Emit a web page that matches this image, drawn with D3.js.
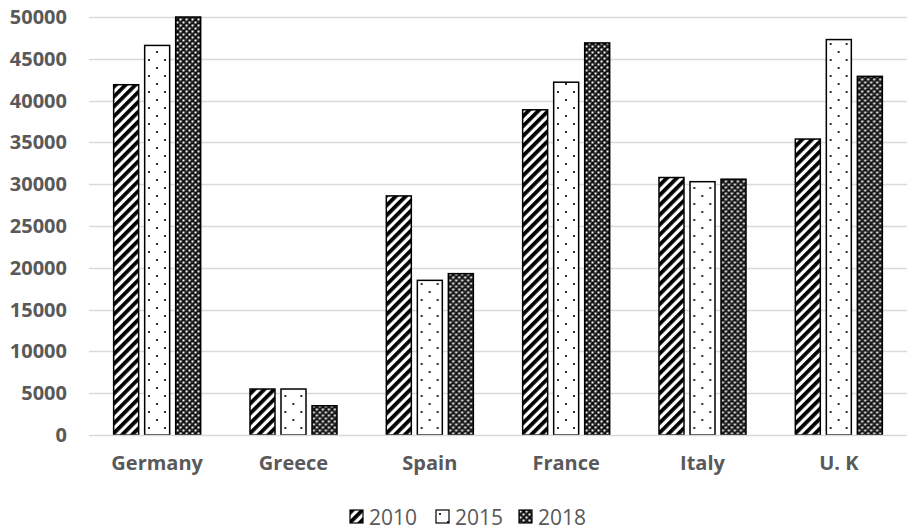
<!DOCTYPE html>
<html>
<head>
<meta charset="utf-8">
<script src="https://cdn.jsdelivr.net/npm/d3@7"></script>
<style>
  html, body { margin: 0; padding: 0; background: #fff; }
  svg { display: block; }
</style>
</head>
<body>
<svg id="chart" width="907" height="532"></svg>
<script>
const categories = ["Germany", "Greece", "Spain", "France", "Italy", "U. K"];
const seriesNames = ["2010", "2015", "2018"];
const values2010 = [41900, 5500, 28600, 38900, 30800, 35400];
const values2015 = [46600, 5500, 18500, 42200, 30300, 47300];
const values2018 = [50000, 3500, 19300, 46900, 30600, 42900];
const yTicks = [0, 5000, 10000, 15000, 20000, 25000, 30000, 35000, 40000, 45000, 50000];

const seriesValues = [values2010, values2015, values2018];
const rows = categories.map((c, i) => ({
  category: c,
  items: seriesNames.map((s, j) => ({ series: s, value: seriesValues[j][i] }))
}));

const svg = d3.select("#chart");
const textColor = "#595959";
const font = "'Open Sans', 'DejaVu Sans', sans-serif";

// fill patterns for the three series
const defs = svg.append("defs");
const stripes = defs.append("pattern")
  .attr("id", "pat-2010").attr("patternUnits", "userSpaceOnUse")
  .attr("width", 7).attr("height", 7)
  .attr("patternTransform", "rotate(45)");
stripes.append("rect").attr("width", 7).attr("height", 7).attr("fill", "#fff");
stripes.append("rect").attr("width", 3.8).attr("height", 7).attr("fill", "#000");

const dots = defs.append("pattern")
  .attr("id", "pat-2015").attr("patternUnits", "userSpaceOnUse")
  .attr("width", 16).attr("height", 16);
dots.append("rect").attr("width", 16).attr("height", 16).attr("fill", "#fff");
dots.append("circle").attr("cx", 4).attr("cy", 4).attr("r", 1.1).attr("fill", "#000");
dots.append("circle").attr("cx", 12).attr("cy", 12).attr("r", 1.1).attr("fill", "#000");

const checks = defs.append("pattern")
  .attr("id", "pat-2018").attr("patternUnits", "userSpaceOnUse")
  .attr("width", 6).attr("height", 6);
checks.append("rect").attr("width", 6).attr("height", 6).attr("fill", "#111");
checks.append("rect").attr("x", 0.5).attr("y", 0.5).attr("width", 2).attr("height", 2).attr("fill", "#fff");
checks.append("rect").attr("x", 3.5).attr("y", 3.5).attr("width", 2).attr("height", 2).attr("fill", "#fff");
checks.append("rect").attr("x", 2.6).attr("y", 0.6).attr("width", 0.8).attr("height", 0.8).attr("fill", "#bbb");
checks.append("rect").attr("x", 0.6).attr("y", 3.6).attr("width", 0.8).attr("height", 0.8).attr("fill", "#bbb");

const fills = d3.scaleOrdinal().domain(seriesNames)
  .range(["url(#pat-2010)", "url(#pat-2015)", "url(#pat-2018)"]);

// scales
const x0 = d3.scaleBand().domain(categories).range([89, 907]).padding(0);
const x1 = d3.scaleBand().domain(seriesNames).range([0, x0.bandwidth()])
  .paddingInner(0.194).paddingOuter(0.795);
const y = d3.scaleLinear().domain([0, 50000]).range([435, 17]);

// gridlines
svg.append("g").selectAll("line").data(yTicks.filter(t => t > 0)).join("line")
  .attr("x1", 89).attr("x2", 907)
  .attr("y1", d => Math.round(y(d)) + 0.5).attr("y2", d => Math.round(y(d)) + 0.5)
  .attr("stroke", "#d9d9d9").attr("stroke-width", 1.5);

// y axis labels
const yAxis = svg.append("g").attr("transform", "translate(89,0)")
  .call(d3.axisLeft(y).tickValues(yTicks).tickSize(0).tickPadding(22).tickFormat(d3.format("d")));
yAxis.select(".domain").remove();
yAxis.selectAll("text")
  .attr("fill", textColor).attr("font-family", font).attr("font-weight", 700)
  .attr("font-size", "20px");

// bars
const groups = svg.append("g").selectAll("g").data(rows).join("g")
  .attr("transform", d => `translate(${x0(d.category)},0)`);
groups.selectAll("rect").data(d => d.items).join("rect")
  .attr("x", d => x1(d.series))
  .attr("y", d => y(d.value))
  .attr("width", x1.bandwidth())
  .attr("height", d => y(0) - y(d.value))
  .attr("fill", d => fills(d.series))
  .attr("stroke", "#000").attr("stroke-width", 1.5);

// baseline
svg.append("line").attr("x1", 89).attr("x2", 907)
  .attr("y1", y(0) + 0.5).attr("y2", y(0) + 0.5)
  .attr("stroke", "#d9d9d9").attr("stroke-width", 1.5);

// category axis
const xAxis = svg.append("g").attr("transform", `translate(0,${y(0)})`)
  .call(d3.axisBottom(x0).tickSize(0).tickPadding(21));
xAxis.select(".domain").remove();
xAxis.selectAll("text")
  .attr("fill", textColor).attr("font-family", font).attr("font-weight", 700)
  .attr("font-size", "20px");

// legend
const legendX = [350, 436, 519];
const legend = svg.append("g").selectAll("g").data(seriesNames).join("g")
  .attr("transform", (d, i) => `translate(${legendX[i]},510)`);
legend.append("rect")
  .attr("width", 13).attr("height", 13)
  .attr("fill", d => fills(d)).attr("stroke", "#000").attr("stroke-width", 1.2);
legend.append("text")
  .attr("x", 19).attr("y", 14.5)
  .attr("fill", textColor).attr("font-family", font).attr("font-size", "21px")
  .text(d => d);
</script>
</body>
</html>
